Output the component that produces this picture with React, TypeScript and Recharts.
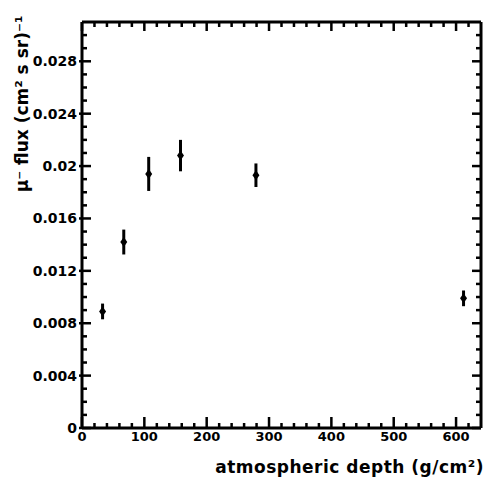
import React from 'react';
import { ScatterChart, Scatter, XAxis, YAxis, ErrorBar } from 'recharts';

const depth = [33, 67, 107, 158, 279, 612];
const flux = [0.0089, 0.0142, 0.0194, 0.0208, 0.0193, 0.0099];
const fluxErr = [0.0006, 0.00095, 0.0013, 0.0012, 0.0009, 0.0006];

const xMajorTicks = [0, 100, 200, 300, 400, 500, 600];
const xMinorTicks = [20, 40, 60, 80, 120, 140, 160, 180, 220, 240, 260, 280, 320, 340, 360, 380, 420, 440, 460, 480, 520, 540, 560, 580, 620];
const xTickLabels = ['0', '100', '200', '300', '400', '500', '600'];

const yMajorTicks = [0, 0.004, 0.008, 0.012, 0.016, 0.02, 0.024, 0.028];
const yMinorTicks = [0.001, 0.002, 0.003, 0.005, 0.006, 0.007, 0.009, 0.01, 0.011, 0.013, 0.014, 0.015, 0.017, 0.018, 0.019, 0.021, 0.022, 0.023, 0.025, 0.026, 0.027, 0.029, 0.03];
const yTickLabels = ['0', '0.004', '0.008', '0.012', '0.016', '0.02', '0.024', '0.028'];

const xTitle = 'atmospheric depth (g/cm²)';
const yTitle = 'μ⁻ flux (cm² s sr)⁻¹';

const data = depth.map((d, i) => ({ x: d, y: flux[i], err: fluxErr[i] }));
const xTicks = [...xMajorTicks, ...xMinorTicks].sort((a, b) => a - b);
const yTicks = [...yMajorTicks, ...yMinorTicks].sort((a, b) => a - b);

const FONT = "'DejaVu Sans', sans-serif";
const TS = 6;
const TM = 2;
const OFF = TS + TM;
const TICK = '#000';
const TW = 2.5;

const isMajor = (arr: number[], v: number) => arr.some((m) => Math.abs(m - v) < 1e-9);
const labelOf = (arr: number[], labels: string[], v: number) => {
  const i = arr.findIndex((m) => Math.abs(m - v) < 1e-9);
  return i >= 0 ? labels[i] : '';
};

const LeftTick = (props: any) => {
  const { x, y, payload } = props;
  const ax = x + OFF;
  const major = isMajor(yMajorTicks, payload.value);
  return (
    <g>
      <line x1={major ? ax - 3 : ax} x2={major ? ax + 9 : ax + 5} y1={y} y2={y} stroke={TICK} strokeWidth={TW} />
      {major && (
        <text x={ax - 5} y={y + 5} textAnchor="end" fontFamily={FONT} fontWeight="bold" fontSize={14} fill="#000">
          {labelOf(yMajorTicks, yTickLabels, payload.value)}
        </text>
      )}
    </g>
  );
};

const RightTick = (props: any) => {
  const { x, y, payload } = props;
  const ax = x - OFF;
  const major = isMajor(yMajorTicks, payload.value);
  return <line x1={ax} x2={major ? ax - 9 : ax - 5} y1={y} y2={y} stroke={TICK} strokeWidth={TW} />;
};

const BottomTick = (props: any) => {
  const { x, y, payload } = props;
  const ay = y - OFF;
  const major = isMajor(xMajorTicks, payload.value);
  return (
    <g>
      <line x1={x} x2={x} y1={ay} y2={major ? ay - 11 : ay - 5} stroke={TICK} strokeWidth={TW} />
      {major && (
        <text x={x} y={ay + 13} textAnchor="middle" fontFamily={FONT} fontWeight="bold" fontSize={13} fill="#000">
          {labelOf(xMajorTicks, xTickLabels, payload.value)}
        </text>
      )}
    </g>
  );
};

const TopTick = (props: any) => {
  const { x, y, payload } = props;
  const ay = y + OFF;
  const major = isMajor(xMajorTicks, payload.value);
  return <line x1={x} x2={x} y1={ay} y2={major ? ay + 9 : ay + 5} stroke={TICK} strokeWidth={TW} />;
};

const Diamond = (props: any) => {
  const { cx, cy } = props;
  return <path d={`M${cx},${cy - 5} L${cx + 3.5},${cy} L${cx},${cy + 5} L${cx - 3.5},${cy} Z`} fill="#000" />;
};

export default function App() {
  return (
    <div style={{ position: 'absolute', left: 0, top: 0, width: 486, height: 478, background: '#fff' }}>
      <ScatterChart width={486} height={478} margin={{ top: 0, right: 0, bottom: 0, left: 0 }}>
        <XAxis xAxisId="b" type="number" dataKey="x" domain={[0, 640]} ticks={xTicks} interval={0} height={50}
          tickSize={TS} tickMargin={TM} tickLine={false} axisLine={{ stroke: '#000', strokeWidth: 3 }} tick={<BottomTick />} allowDataOverflow />
        <XAxis xAxisId="t" orientation="top" type="number" dataKey="x" domain={[0, 640]} ticks={xTicks} interval={0} height={22}
          tickSize={TS} tickMargin={TM} tickLine={false} axisLine={{ stroke: '#000', strokeWidth: 3 }} tick={<TopTick />} allowDataOverflow />
        <YAxis yAxisId="l" type="number" dataKey="y" domain={[0, 0.031]} ticks={yTicks} interval={0} width={82}
          tickSize={TS} tickMargin={TM} tickLine={false} axisLine={{ stroke: '#000', strokeWidth: 3 }} tick={<LeftTick />} allowDataOverflow />
        <YAxis yAxisId="r" orientation="right" type="number" dataKey="y" domain={[0, 0.031]} ticks={yTicks} interval={0} width={5}
          tickSize={TS} tickMargin={TM} tickLine={false} axisLine={{ stroke: '#000', strokeWidth: 3 }} tick={<RightTick />} allowDataOverflow />
        <Scatter data={data} xAxisId="b" yAxisId="l" shape={<Diamond />} isAnimationActive={false}>
          <ErrorBar dataKey="err" direction="y" width={0} stroke="#000" strokeWidth={3} />
        </Scatter>
      </ScatterChart>
      <svg width={486} height={478} style={{ position: 'absolute', left: 0, top: 0, pointerEvents: 'none' }}>
        <text x={484} y={473} textAnchor="end" fontFamily={FONT} fontWeight="bold" fontSize={17} letterSpacing={0.5} fill="#000">{xTitle}</text>
        <text transform="translate(28,104) rotate(-90)" textAnchor="middle" fontFamily={FONT} fontWeight="bold" fontSize={17} fill="#000">{yTitle}</text>
      </svg>
    </div>
  );
}
